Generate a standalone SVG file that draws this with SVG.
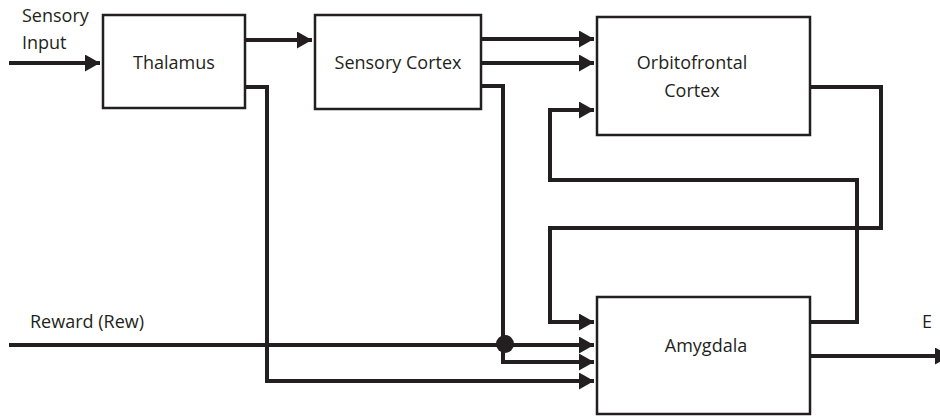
<svg xmlns="http://www.w3.org/2000/svg" width="940" height="416" viewBox="0 0 940 416">
<style>
.box{fill:#fff;stroke:#231f20;stroke-width:2.5}
.lbl{font-family:"Open Sans","Liberation Sans",sans-serif;font-size:18px;fill:#231f20}
.c{text-anchor:middle}
.w{fill:none;stroke:#231f20;stroke-width:4;stroke-linejoin:miter}
.a{marker-end:url(#ah)}
</style>
<defs>
<marker id="ah" markerUnits="userSpaceOnUse" markerWidth="16" markerHeight="18" refX="15" refY="8.5" orient="auto">
<path d="M0,0 L15,8.5 L0,17 z" fill="#231f20"/>
</marker>
</defs>
<rect width="940" height="416" fill="#fff"/>
<g id="connectors">
<path class="w a" d="M9,63 H100"/>
<path class="w a" d="M245,40 H312"/>
<path class="w a" d="M481,39 H594"/>
<path class="w a" d="M481,63 H594"/>
<path class="w a" d="M481,86 H503 V362 H594"/>
<path class="w a" d="M245,87 H267 V381 H594"/>
<path class="w a" d="M9,345 H594"/>
<path class="w a" d="M810,87 H881 V228 H550 V322 H594"/>
<path class="w a" d="M810,322 H857 V180 H550 V110 H594"/>
<path class="w a" d="M810,356 H950"/>
<circle cx="505" cy="344" r="9" fill="#231f20"/>
</g>
<g id="thalamus">
<rect class="box" x="103" y="15" width="142" height="93"/>
<text class="lbl c" x="174" y="69">Thalamus</text>
</g>
<g id="sensory-cortex">
<rect class="box" x="315" y="15" width="166" height="94"/>
<text class="lbl c" x="398" y="69">Sensory Cortex</text>
</g>
<g id="orbitofrontal">
<rect class="box" x="597" y="17" width="213" height="118"/>
<text class="lbl c" x="692" y="69">Orbitofrontal</text>
<text class="lbl c" x="692" y="97">Cortex</text>
</g>
<g id="amygdala">
<rect class="box" x="597" y="297" width="213" height="117"/>
<text class="lbl c" x="706" y="352">Amygdala</text>
</g>
<g id="labels">
<text class="lbl" x="22" y="22">Sensory</text>
<text class="lbl" x="22" y="49">Input</text>
<text class="lbl" x="30" y="328">Reward (Rew)</text>
<text class="lbl" x="922" y="328">E</text>
</g>
</svg>
